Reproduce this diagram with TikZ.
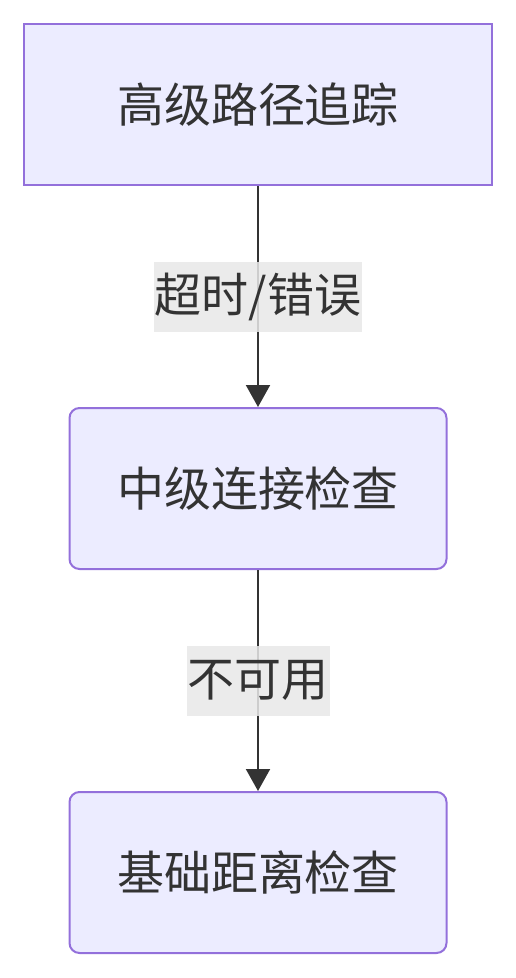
\documentclass[tikz,border=0pt]{standalone}
\usepackage{fontspec}
\setmainfont{Noto Sans CJK SC}
\usepackage{xcolor}
\usepackage{tikz}
\usetikzlibrary{positioning, arrows.meta}
\definecolor{boxfill}{HTML}{ECECFF}
\definecolor{boxline}{HTML}{9370DB}
\definecolor{inkgray}{HTML}{333333}
\definecolor{labelgray}{HTML}{E8E8E8}

\begin{document}
\begin{tikzpicture}[x=1pt, y=-1pt,
    stage/.style={draw=boxline, line width=2pt, fill=boxfill, text=inkgray,
        font=\fontsize{47pt}{54pt}\selectfont, minimum height=161pt, inner sep=0pt},
    edgelabel/.style={fill=labelgray, fill opacity=0.85, text opacity=1, text=inkgray,
        font=\fontsize{47pt}{54pt}\selectfont, minimum height=70pt, inner xsep=1pt, inner ysep=0pt},
    flow/.style={draw=inkgray, line width=2pt, -{Triangle[length=22pt, width=24pt]}}]
    % Page frame
    \useasboundingbox (0,0) rectangle (516,978);

    % Stages
    \node[stage, minimum width=468pt] (tracking) at (258,104.5) {高级路径追踪};
    \node[stage, rounded corners=10pt, minimum width=377pt, below=221pt of tracking] (connect) {中级连接检查};
    \node[stage, rounded corners=10pt, minimum width=377pt, below=221pt of connect] (distance) {基础距离检查};

    % Fallback edges
    \draw[flow] (tracking) -- node[edgelabel] (timeout) {超时/错误} (connect);
    \draw[flow] (connect) -- node[edgelabel] (unavail) {不可用} (distance);
\end{tikzpicture}
\end{document}
